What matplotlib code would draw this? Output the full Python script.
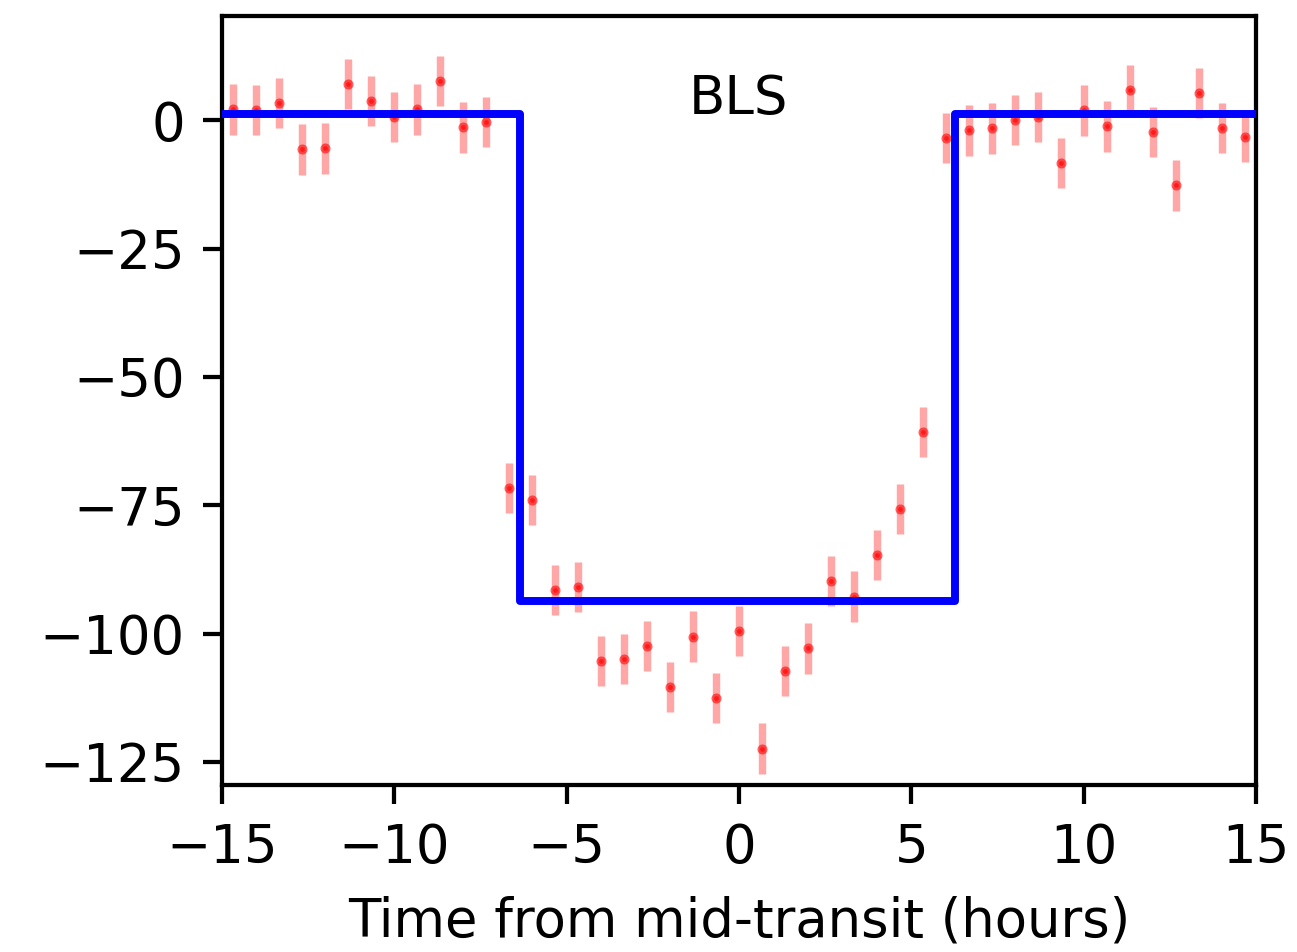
import numpy as np
import matplotlib
matplotlib.use("Agg")
import matplotlib.pyplot as plt

# binned phase-folded data (hours, ppm-like units)
time_hours = [-14.667, -14.0, -13.333, -12.667, -12.0, -11.333, -10.667, -10.0, -9.333,
              -8.667, -8.0, -7.333, -6.667, -6.0, -5.333, -4.667, -4.0, -3.333, -2.667,
              -2.0, -1.333, -0.667, 0.0, 0.667, 1.333, 2.0, 2.667, 3.333, 4.0, 4.667,
              5.333, 6.0, 6.667, 7.333, 8.0, 8.667, 9.333, 10.0, 10.667, 11.333, 12.0,
              12.667, 13.333, 14.0, 14.667]
flux = [2.1, 2.0, 3.4, -5.7, -5.5, 7.1, 3.8, 0.6, 2.1, 7.7, -1.4, -0.4,
        -71.7, -74.0, -91.5, -90.9, -105.4, -104.9, -102.4, -110.4, -100.6, -112.5,
        -99.5, -122.4, -107.3, -102.9, -89.7, -92.8, -84.7, -75.7, -60.8,
        -3.4, -2.0, -1.6, 0.0, 0.6, -8.3, 1.9, -1.2, 5.9, -2.3, -12.7, 5.3, -1.5, -3.3]
flux_err = [4.9] * len(flux)

# BLS box model
model_t = [-15.0, -6.35, -6.35, 6.27, 6.27, 15.0]
model_f = [1.2, 1.2, -93.6, -93.6, 1.2, 1.2]

DPI = 381
fig = plt.figure(figsize=(1297 / DPI, 952 / DPI), dpi=DPI)
ax = fig.add_axes([222 / 1297, 1 - 785 / 952, (1256 - 222) / 1297, (785 - 16) / 952])

ax.errorbar(time_hours, flux, yerr=flux_err, fmt=".", color=(1, 0, 0, 0.6), ms=1.8,
            ecolor=(1, 0, 0, 0.35), elinewidth=1.4, capsize=0, zorder=2)
ax.plot(model_t, model_f, color="#0000ff", lw=1.5, zorder=3)

ax.text(0.5, 0.892, "BLS", transform=ax.transAxes, ha="center", va="center", fontsize=10)
ax.set_xlim(-15, 15)
ax.set_ylim(-129.5, 20.3)
ax.set_xticks([-15, -10, -5, 0, 5, 10, 15])
ax.set_yticks([0, -25, -50, -75, -100, -125])
ax.set_xlabel("Time from mid-transit (hours)", fontsize=10)
ax.tick_params(labelsize=10)

fig.savefig("out.png", dpi=DPI)
